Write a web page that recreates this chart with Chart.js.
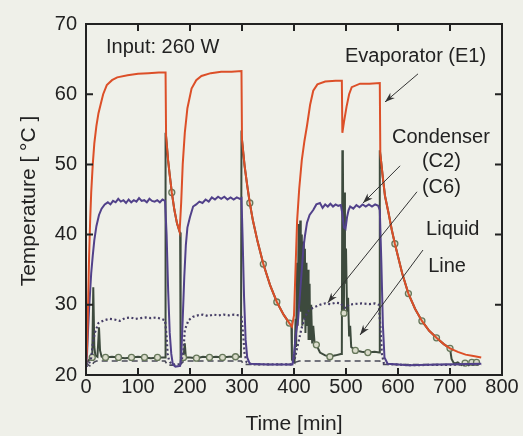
<!DOCTYPE html>
<html>
<head>
<meta charset="utf-8">
<script src="https://cdn.jsdelivr.net/npm/chart.js@4.4.1/dist/chart.umd.min.js"></script>
<style>
  html, body { margin: 0; padding: 0; background: #eff0e9; }
  canvas { display: block; }
</style>
</head>
<body>
<canvas id="loopChart" width="523" height="436"></canvas>
<script>
// Loop heat pipe start-up test, 260 W input - temperatures vs time

// [time (min), temperature (degC)]
const evapE1 = [[0,21.5],[2,24],[4,30],[6,37],[8,42],[10,46],[13,50],[16,53],[20,55.5],[24,57.3],[28,58.5],[33,60],[40,61.3],[50,62],[60,62.4],[80,62.7],[100,62.9],[120,63],[140,63.1],[153,63.1],
  [154,54],[158,50.5],[161,48.5],[165,46],[170,43.5],[175,41.6],[180,40.4],
  [183,44.5],[186,50],[190,54.5],[195,58],[203,60.8],[212,62],[222,62.6],[240,63],[260,63.2],[280,63.2],[299,63.3],
  [300,53.5],[305,49.8],[310,47],[315,44.5],[321,42],[330,39],[341,35.8],[354,32.8],[367,30.4],[380,28.6],[391,27.4],[396,26.9],
  [400,28.5],[404,37.5],[406,42],[410,46.5],[415,50.6],[420,53.3],[425,55.5],[431,58.5],[437,60.5],[445,61.4],[460,61.8],[480,61.9],[492,61.9],
  [493,54.5],[496,56],[501,58.2],[506,60],[511,61],[527,61.5],[545,61.5],[565,61.6],
  [566,51.5],[571,48],[575,45.5],[582,43],[588,40.7],[594,38.7],[608,34.5],[620,31.6],[633,29.4],[646,27.7],[660,26.3],[674,25.3],[688,24.4],[700,23.8],[715,23.3],[730,22.9],[745,22.7],[760,22.5]];

const condC2 = [[0,21],[2,23],[4,26.5],[6,29.5],[8,32],[10,34.5],[13,37],[16,39.2],[20,41.2],[25,42.8],[30,43.7],[36,44.3],[42,44.6],[47,44.3],[52,44.8],[57,44.6],[62,45.1],[67,44.7],[72,44.9],[77,44.5],[82,45],[87,44.6],[92,44.9],[97,44.7],[102,45.2],[107,44.8],[112,44.9],[117,44.6],[122,45.1],[127,44.8],[132,44.7],[137,44.9],[142,44.6],[147,45],[152,44.8],
  [155,40],[158,32],[161,26],[164,23],[167,21.5],[172,21.2],[181,21.3],
  [183,22.5],[186,28],[189,34],[192,38.5],[195,41],[200,42.5],[206,44],[212,44.3],[218,44.7],[224,44.5],[230,45],[236,44.7],[242,45.3],[248,45],[254,45.4],[260,45.1],[266,45.4],[272,45],[278,45.3],[284,45],[290,45.3],[296,45.1],[299,45.2],
  [301,40],[304,31],[307,25],[310,22.5],[315,21.6],[350,21.5],[397,21.5],
  [400,23],[404,26],[408,28],[412,32],[415,35],[418,38],[421,39.8],[425,41.7],[430,42.8],[437,43.5],[443,44.3],[450,44.5],[455,43.8],[460,44.3],[465,44],[470,44.4],[475,44],[480,44.3],[485,44.1],[490,44.2],
  [493,43],[496,41],[499,40.8],[502,42.5],[505,43.5],[508,44],[514,43.7],[520,44.2],[526,43.9],[532,44.3],[538,44],[544,44.3],[550,44],[556,44.3],[562,44.1],[565,43.5],
  [568,36],[571,27],[574,22.5],[580,21.6],[620,21.4],[680,21.5],[760,21.6]];

const condC6 = [[0,21.2],[5,21.5],[8,22],[10,22.5],[13,24.5],[17,26],[24,27.4],[35,27.8],[45,28],[55,27.9],[65,27.7],[75,28.1],[85,28.2],[95,28],[105,28.1],[115,28.2],[125,28.1],[135,28.2],[145,28],[152,27.8],
  [155,25.5],[157,23],[160,22],[165,21.5],[183,21.5],
  [185,22.5],[187,23.2],[190,26.4],[197,27.8],[206,28.3],[215,28.5],[225,28.6],[235,28.4],[245,28.6],[255,28.5],[265,28.6],[275,28.5],[285,28.6],[294,28.5],[299,28.3],
  [302,26],[305,23],[309,21.8],[320,21.5],[398,21.5],
  [402,22.5],[408,24.5],[414,26.5],[420,28],[426,29],[432,29.4],[440,29.7],[450,30],[460,30.2],[470,30.1],[480,30.3],[490,30.2],[495,29.7],[500,29.5],[505,30],[515,30.1],[530,30.2],[545,30.1],[555,30.2],[563,30],
  [566,27],[569,23],[573,21.6],[620,21.4],[760,21.5]];

const liquidLine = [[0,21.8],[4,22],[8,22.3],[12,22.5],[14,32.5],[16,24],[18,22.8],[22,22.6],[25,26.8],[27,23.5],[30,22.6],[37.5,22.5],[50,22.6],[62.5,22.5],[75,22.4],[87.5,22.5],[100,22.6],[112.5,22.5],[125,22.4],[137.5,22.5],[150,22.5],[152,22.5],
  [153,54.5],[154,54],[158,50.5],[161,48.5],[165,46],[170,43.5],[175,41.6],[180,40.4],[181,40.3],[182,22],[184,22.3],[187.5,22.5],[190,24.5],[192,22.5],[200,22.5],[212.5,22.4],[225,22.6],[237.5,22.5],[250,22.6],[262.5,22.5],[275,22.6],[287.5,22.6],[298,22.6],
  [299,53.8],[300,53.5],[305,49.8],[310,47],[315,44.5],[321,42],[330,39],[341,35.8],[354,32.8],[367,30.4],[380,28.6],[391,27.4],[395,27],[396,22.2],
  [398,22],[401,21.8],[403,28],[404,24],[406,36],[407,27],[409,41.5],[410,30],[412,42],[413,29],[415,40],[416,27],[418,39],[419,28],[421,38],[422,26],[424,36],[425,27],[427,35],[428,25],[430,33],[431,25],[433,30],[435,24.5],[437,27],[440,24.2],[443,24.3],[450,23.2],[460,22.8],[469,22.6],[480,22.8],[490,23],[492,23],
  [493,52],[494,51],[495,38],[496,28.8],[497,46],[498,33],[500,38],[502,29],[504,31],[506,25.5],[508,27],[510,24],[518,23.5],[530,23.3],[542,23.2],[555,23.3],[564,23.2],
  [565,52],[566,51.5],[571,48],[575,45.5],[582,43],[588,40.7],[594,38.7],[608,34.5],[620,31.6],[633,29.4],[646,27.7],[660,26.3],[674,25.3],[688,24.4],[700,23.8],[703,22.3],[708,21.6],[715,21.8],[722,21.4],[729,21.7],[736,21.4],[742,21.8],[747,21.5],[751,21.8],[757,21.5]];

// times on the liquid line that carry a circle marker
const markTimes = [12, 37.5, 62.5, 87.5, 112.5, 137.5, 165, 187.5, 212.5, 237.5, 262.5, 287.5, 315, 341, 367, 391, 443, 469, 496, 518, 542, 594, 620, 646, 674, 700, 729, 742, 751];

// unlabelled dashed trace near ambient
const dashedLine = [[0,21.8],[5,21.4],[10,21.2],[15,21.8],[20,22],[152,22],[157,21.4],[181,21.4],[185,21.8],[190,22],[299,22],[303,21.5],[397,21.5],[402,21.8],[410,22],[565,22],[570,21.5],[760,21.5]];

// text labels and arrows, in data units (time, temp)
const notes = [
  ['Input: 260 W', 38.5, 65.9],
  ['Evaporator (E1)', 498, 64.6],
  ['Condenser', 588.5, 53],
  ['(C2)', 646, 49.6],
  ['(C6)', 646, 45.9],
  ['Liquid', 654, 39.9],
  ['Line', 658, 34.7]
];
const arrows = [
  [638.5, 62.9, 575, 58.9],
  [604, 49.8, 532.7, 44.5],
  [636.5, 46.1, 465, 30.3],
  [648, 37.8, 527, 25.7]
];

const INK = '#222222';
Chart.defaults.font.family = '"Liberation Sans", Arial, sans-serif';

function pts(arr) {
  return arr.map(p => ({ x: p[0], y: p[1] }));
}

const paperBg = {
  id: 'paperBg',
  beforeDraw(chart) {
    const ctx = chart.ctx;
    ctx.save();
    ctx.fillStyle = '#eff0e9';
    ctx.fillRect(0, 0, chart.width, chart.height);
    ctx.restore();
  }
};

const frameAndNotes = {
  id: 'frameAndNotes',
  afterDraw(chart) {
    const ctx = chart.ctx;
    const a = chart.chartArea;
    const xs = chart.scales.x, ys = chart.scales.y;
    ctx.save();

    // box
    ctx.strokeStyle = INK;
    ctx.lineWidth = 2;
    ctx.strokeRect(a.left, a.top, a.right - a.left, a.bottom - a.top);

    // inward ticks on all four sides
    ctx.beginPath();
    xs.ticks.forEach(t => {
      const px = xs.getPixelForValue(t.value);
      ctx.moveTo(px, a.bottom); ctx.lineTo(px, a.bottom - 7);
      ctx.moveTo(px, a.top); ctx.lineTo(px, a.top + 7);
    });
    ys.ticks.forEach(t => {
      const py = ys.getPixelForValue(t.value);
      ctx.moveTo(a.left, py); ctx.lineTo(a.left + 7, py);
      ctx.moveTo(a.right, py); ctx.lineTo(a.right - 7, py);
    });
    ctx.stroke();

    // axis titles
    ctx.fillStyle = INK;
    ctx.font = '21px "Liberation Sans", Arial, sans-serif';
    ctx.textAlign = 'center';
    ctx.textBaseline = 'alphabetic';
    ctx.fillText('Time [min]', (a.left + a.right) / 2, 430);
    ctx.save();
    ctx.translate(35, 201);
    ctx.rotate(-Math.PI / 2);
    ctx.fillText('Temperature [ \u00B0C ]', 0, 0);
    ctx.restore();

    // annotations
    ctx.font = '20px "Liberation Sans", Arial, sans-serif';
    ctx.textAlign = 'left';
    notes.forEach(n => {
      ctx.fillText(n[0], xs.getPixelForValue(n[1]), ys.getPixelForValue(n[2]));
    });

    ctx.strokeStyle = '#333333';
    ctx.fillStyle = '#333333';
    ctx.lineWidth = 1;
    arrows.forEach(r => {
      const x0 = xs.getPixelForValue(r[0]), y0 = ys.getPixelForValue(r[1]);
      const x1 = xs.getPixelForValue(r[2]), y1 = ys.getPixelForValue(r[3]);
      const ang = Math.atan2(y1 - y0, x1 - x0);
      ctx.beginPath();
      ctx.moveTo(x0, y0); ctx.lineTo(x1, y1);
      ctx.stroke();
      ctx.beginPath();
      ctx.moveTo(x1, y1);
      ctx.lineTo(x1 - 10 * Math.cos(ang) + 3.5 * Math.sin(ang), y1 - 10 * Math.sin(ang) - 3.5 * Math.cos(ang));
      ctx.lineTo(x1 - 7 * Math.cos(ang), y1 - 7 * Math.sin(ang));
      ctx.lineTo(x1 - 10 * Math.cos(ang) - 3.5 * Math.sin(ang), y1 - 10 * Math.sin(ang) + 3.5 * Math.cos(ang));
      ctx.closePath();
      ctx.fill();
    });
    ctx.restore();
  }
};

new Chart(document.getElementById('loopChart'), {
  type: 'line',
  data: {
    datasets: [
      {
        label: 'Evaporator (E1)',
        data: pts(evapE1),
        borderColor: '#dc4f28',
        borderWidth: 2,
        pointRadius: 0
      },
      {
        label: 'Condenser (C2)',
        data: pts(condC2),
        borderColor: '#51418a',
        borderWidth: 2,
        pointRadius: 0
      },
      {
        label: 'Condenser (C6)',
        data: pts(condC6),
        borderColor: '#463e66',
        borderWidth: 2.2,
        borderDash: [2, 2.5],
        pointRadius: 0
      },
      {
        label: 'Liquid Line',
        data: pts(liquidLine),
        borderColor: '#3d4a3d',
        borderWidth: 2,
        pointRadius: ctx => markTimes.includes(liquidLine[ctx.dataIndex][0]) ? 3 : 0,
        pointBorderColor: '#66775a',
        pointBackgroundColor: '#dadccb',
        pointBorderWidth: 1.3
      },
      {
        label: 'Ambient',
        data: pts(dashedLine),
        borderColor: '#4a4a58',
        borderWidth: 1.6,
        borderDash: [6, 4],
        pointRadius: 0
      }
    ]
  },
  options: {
    responsive: false,
    animation: false,
    devicePixelRatio: 1,
    layout: { padding: { left: 0, right: 21, top: 24, bottom: 0 } },
    plugins: { legend: { display: false }, tooltip: { enabled: false } },
    elements: { line: { tension: 0 } },
    scales: {
      x: {
        type: 'linear',
        min: 0,
        max: 800,
        grid: { display: false, drawTicks: false },
        border: { display: false },
        ticks: { stepSize: 100, maxRotation: 0, color: INK, padding: 0, font: { size: 20 } },
        afterFit: s => { s.height = 61; }
      },
      y: {
        min: 20,
        max: 70,
        grid: { display: false, drawTicks: false },
        border: { display: false },
        ticks: { stepSize: 10, color: INK, padding: 9, font: { size: 20 } },
        afterFit: s => { s.width = 86; }
      }
    }
  },
  plugins: [paperBg, frameAndNotes]
});
</script>
</body>
</html>
